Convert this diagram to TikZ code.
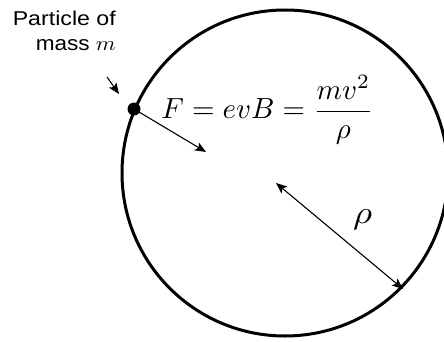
\documentclass[tikz,border=0pt]{standalone}
\usepackage{fontspec}
\setmainfont{Liberation Sans}
\usetikzlibrary{arrows.meta}
\begin{document}
\begin{tikzpicture}[x=1pt,y=-1pt,
  orbit/.style={line width=3pt},
  tip/.tip={Stealth[length=11pt,width=9pt,inset=2.5pt]},
  thinarrow/.style={line width=1.1pt,-tip},
  twoarrow/.style={line width=1.1pt,tip-tip},
  mathbig/.style={inner sep=0pt},
  labeltext/.style={inner sep=0pt}]
\useasboundingbox (0,0) rectangle (444,342);
\begin{scope}
  \clip (0,0) rectangle (444,342);
  \draw[orbit] (285,173) circle[radius=163pt];
\end{scope}
\node[circle, fill=black, inner sep=0pt, minimum size=13pt] (p) at (134,109) {};
\coordinate (fend) at (206,152);
\draw[thinarrow] (p.center) -- (fend);
\node[labeltext, anchor=base east] (lab1) at (116,25.5) {\resizebox{103pt}{14.5pt}{Particle of}};
\node[labeltext, anchor=base east] (lab2) at (116,51) {\resizebox{80pt}{11pt}{mass $m$}};
\coordinate (s1) at (107,77);
\coordinate (s2) at (119,94);
\draw[thinarrow] (s1) -- (s2);
\node[mathbig] (f) at (267.5,110) {\resizebox*{212pt}{69pt}{$\displaystyle F = evB = \frac{mv^2}{\rho}$}};
\coordinate (c) at (276,183);
\coordinate (r) at (403,289);
\draw[twoarrow] (c) -- (r);
\node[mathbig] (rl) at (362.5,220) {\resizebox*{19pt}{20pt}{$\rho$}};
\end{tikzpicture}
\end{document}
